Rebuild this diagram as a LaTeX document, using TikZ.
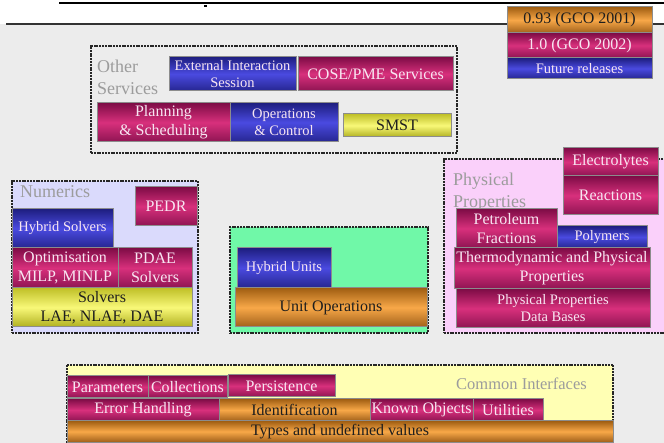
\documentclass[tikz,border=0pt]{standalone}
\usepackage{fontspec}
\setmainfont{Liberation Serif}
\newfontfamily\tms{Liberation Serif}
\definecolor{bggray}{HTML}{ECECEC}
\definecolor{bordergray}{HTML}{8C8C8C}
\definecolor{magtop}{HTML}{7E0C46}
\definecolor{magmid}{HTML}{D8307C}
\definecolor{magbot}{HTML}{8E1452}
\definecolor{bluetop}{HTML}{1E1E80}
\definecolor{bluemid}{HTML}{4A4AE0}
\definecolor{bluebot}{HTML}{262690}
\definecolor{orgtop}{HTML}{A05E12}
\definecolor{orgmid}{HTML}{F8A848}
\definecolor{orgbot}{HTML}{A0601A}
\definecolor{yeltop}{HTML}{C0C028}
\definecolor{yelmid}{HTML}{F8F878}
\definecolor{yelbot}{HTML}{B0B020}
\definecolor{lighttext}{HTML}{F8E6F2}
\definecolor{darktext}{HTML}{1E1E1E}
\definecolor{graylabel}{HTML}{9C9C9C}
\definecolor{lavender}{HTML}{DADAFC}
\definecolor{mint}{HTML}{70F8A8}
\definecolor{pinkfill}{HTML}{FAD0FA}
\definecolor{lightyel}{HTML}{FFFFB4}
\newcommand\fA{\tms\fontsize{16}{19}\selectfont}
\newcommand\fB{\tms\fontsize{14.5}{17}\selectfont}
\newcommand\boxat[7]{%
  \node[#1, minimum width={(#5)-(#3)}, minimum height={(#6)-(#4)}] (#2)
    at ({((#3)+(#5))/2},{((#4)+(#6))/2}) {#7};}
\tikzset{
  cbox/.style={draw=bordergray, line width=1pt, inner sep=0pt, outer sep=0pt,
    align=center, font=\fA},
  mag/.style={cbox, top color=magtop, bottom color=magbot, middle color=magmid, text=lighttext},
  blu/.style={cbox, top color=bluetop, bottom color=bluebot, middle color=bluemid, text=lighttext},
  org/.style={cbox, top color=orgtop, bottom color=orgbot, middle color=orgmid, text=darktext},
  yel/.style={cbox, top color=yeltop, bottom color=yelbot, middle color=yelmid, text=darktext},
  small/.style={font=\fB},
  frame/.style={draw=black!85, line width=1.6pt, dash pattern=on 2pt off 0.8pt, inner sep=0pt, outer sep=0pt},
  glabel/.style={text=graylabel, font=\tms\fontsize{18}{22}\selectfont, align=left, inner sep=0pt, anchor=base west}
}
\begin{document}
\begin{tikzpicture}[x=1pt,y=-1pt]
\useasboundingbox (0,0) rectangle (664,443);
% background
\fill[white] (0,0) rectangle (664,24);
\fill[bggray] (0,24) rectangle (664,443);
\coordinate (t1) at (59,3);
\coordinate (t2) at (664,3);
\draw[line width=1.4pt, black] (t1) -- (t2);
\coordinate (u1) at (6,24);
\coordinate (u2) at (664,24);
\draw[line width=1.8pt, black!80] (u1) -- (u2);
\fill[black] (204,5) rectangle (207,7);

% legend
\boxat{org}{lg1}{507}{7}{652}{33}{0.93 (GCO 2001)}
\boxat{mag}{lg2}{507}{33}{652}{58}{1.0 (GCO 2002)}
\boxat{blu,small}{lg3}{507}{58}{652}{79}{Future releases}

% other services
\boxat{frame}{fother}{91}{46}{457}{153}{}
\node[glabel] (lother) at (97,95) {Other\\Services};
\boxat{blu,small}{eis}{169}{57}{296}{91}{External Interaction\\Session}
\boxat{mag}{cose}{298}{57}{453}{91}{COSE/PME Services}
\boxat{mag}{plan}{97}{103}{230}{142}{Planning\\\& Scheduling}
\boxat{blu,small}{opc}{230}{103}{338}{142}{Operations\\\& Control}
\boxat{yel}{smst}{343}{114}{451}{137}{SMST}

% numerics
\boxat{frame,fill=lavender}{fnum}{12}{181}{198}{333}{}
\node[glabel] (lnum) at (20,198) {Numerics};
\boxat{mag}{pedr}{135}{187}{197}{226}{PEDR}
\boxat{blu,small}{hs}{12}{209}{113}{248}{Hybrid Solvers}
\boxat{mag}{opt}{12}{248}{118}{288}{Optimisation\\MILP, MINLP}
\boxat{mag}{pdae}{118}{248}{192}{288}{PDAE\\Solvers}
\boxat{yel}{solv}{12}{288}{192}{327}{Solvers\\LAE, NLAE, DAE}

% unit operations
\boxat{frame,fill=mint}{funit}{230}{227}{428}{333}{}
\boxat{blu,small}{hu}{237}{248}{331}{288}{Hybrid Units}
\boxat{org}{uo}{235}{288}{427}{327}{Unit Operations}

% physical properties
\boxat{frame,fill=pinkfill}{fphys}{444}{159}{668}{333}{}
\node[glabel] (lphys) at (453,208) {Physical\\Properties};
\boxat{mag}{elec}{563}{148}{658}{176}{Electrolytes}
\boxat{mag}{reac}{563}{176}{658}{215}{Reactions}
\boxat{mag}{petr}{456}{209}{557}{248}{Petroleum\\Fractions}
\boxat{blu,small}{poly}{557}{226}{647}{248}{Polymers}
\boxat{mag}{thermo}{454}{248}{650}{289}{Thermodynamic and Physical\\Properties}
\boxat{mag,small}{ppdb}{456}{289}{650}{328}{Physical Properties\\Data Bases}

% common interfaces
\boxat{frame,fill=lightyel}{fcom}{67}{365}{613}{443}{}
\node[glabel, font=\tms\fontsize{16.5}{20}\selectfont] (lcom) at (456,390) {Common Interfaces};
\boxat{mag}{par}{67}{376}{148}{398}{Parameters}
\boxat{mag}{coll}{148}{376}{227}{398}{Collections}
\boxat{mag}{pers}{228}{375}{335}{397}{Persistence}
\boxat{mag}{err}{67}{399}{219}{421}{Error Handling}
\boxat{org}{ident}{219}{399}{370}{421}{Identification}
\boxat{mag}{known}{370}{399}{473}{421}{Known Objects}
\boxat{mag}{util}{473}{399}{543}{421}{Utilities}
\boxat{org}{types}{67}{421}{613}{442}{Types and undefined values}
\end{tikzpicture}
\end{document}
